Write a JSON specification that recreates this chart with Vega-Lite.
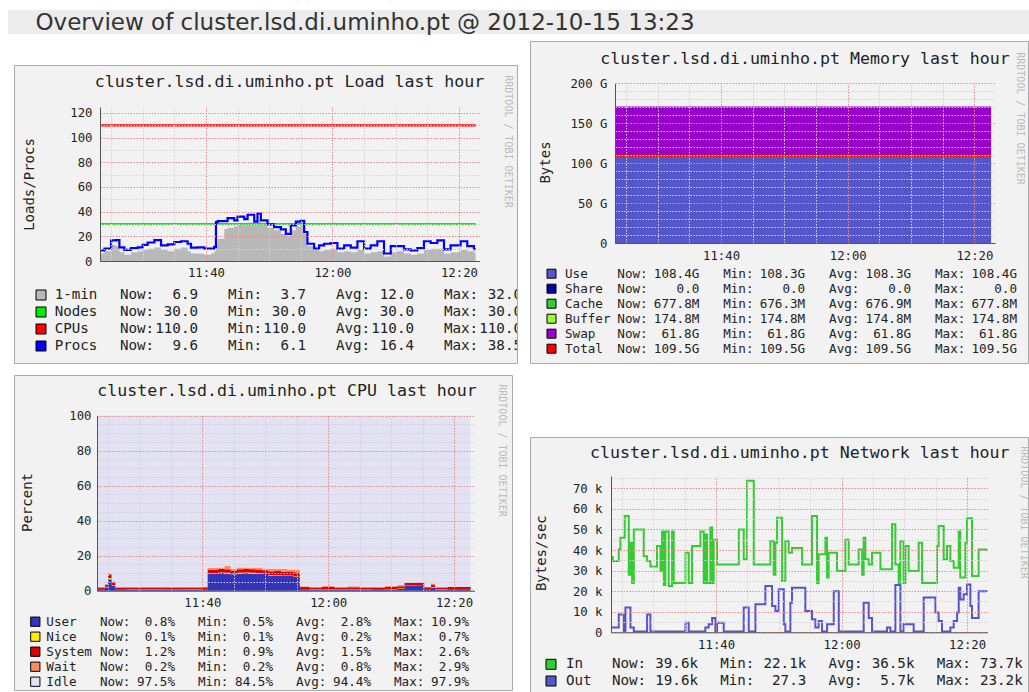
{
"$schema": "https://vega.github.io/schema/vega-lite/v6.json",
"padding": {"left": 8, "top": 10, "right": 0, "bottom": 0},
"background": "#ffffff",
"config": {
  "font": "DejaVu Sans Mono",
  "view": {"stroke": null},
  "axis": {"labelFont": "DejaVu Sans Mono", "labelFontSize": 12.3, "labelColor": "#222222", "titleFont": "DejaVu Sans Mono", "titleFontSize": 14, "titleColor": "#222222", "titleFontWeight": "normal", "domainColor": "#555555", "gridWidth": 1, "gridOpacity": 1, "labelOverlap": false, "labelFlush": false}
},
"datasets": {
  "load": [
    {"time":"2012-10-15T11:23:19","load1":6,"procs":8.6},
    {"time":"2012-10-15T11:23:57","load1":8,"procs":10},
    {"time":"2012-10-15T11:25:00","load1":13,"procs":16.7},
    {"time":"2012-10-15T11:25:47","load1":12,"procs":17},
    {"time":"2012-10-15T11:26:19","load1":7,"procs":11},
    {"time":"2012-10-15T11:27:06","load1":5,"procs":9},
    {"time":"2012-10-15T11:28:09","load1":7,"procs":10.5},
    {"time":"2012-10-15T11:29:13","load1":8,"procs":11},
    {"time":"2012-10-15T11:30:00","load1":9,"procs":13},
    {"time":"2012-10-15T11:30:47","load1":10,"procs":15},
    {"time":"2012-10-15T11:31:51","load1":11,"procs":17},
    {"time":"2012-10-15T11:32:54","load1":9,"procs":12.7},
    {"time":"2012-10-15T11:33:57","load1":8,"procs":13.5},
    {"time":"2012-10-15T11:35:00","load1":10,"procs":15.4},
    {"time":"2012-10-15T11:36:03","load1":11,"procs":16},
    {"time":"2012-10-15T11:37:06","load1":8,"procs":14},
    {"time":"2012-10-15T11:37:38","load1":6,"procs":10.8},
    {"time":"2012-10-15T11:38:41","load1":6,"procs":11},
    {"time":"2012-10-15T11:39:44","load1":5,"procs":10},
    {"time":"2012-10-15T11:40:47","load1":6,"procs":10},
    {"time":"2012-10-15T11:41:19","load1":8,"procs":11.5},
    {"time":"2012-10-15T11:41:35","load1":14,"procs":31.5},
    {"time":"2012-10-15T11:41:51","load1":18,"procs":32.4},
    {"time":"2012-10-15T11:42:54","load1":26,"procs":32.4},
    {"time":"2012-10-15T11:43:25","load1":27,"procs":34.8},
    {"time":"2012-10-15T11:44:28","load1":28,"procs":33},
    {"time":"2012-10-15T11:45:00","load1":30,"procs":36},
    {"time":"2012-10-15T11:46:03","load1":29,"procs":34},
    {"time":"2012-10-15T11:46:35","load1":31,"procs":37.5},
    {"time":"2012-10-15T11:47:38","load1":29,"procs":32},
    {"time":"2012-10-15T11:48:09","load1":32,"procs":38.5},
    {"time":"2012-10-15T11:48:41","load1":30,"procs":33},
    {"time":"2012-10-15T11:49:44","load1":27,"procs":29.7},
    {"time":"2012-10-15T11:50:47","load1":25,"procs":27.5},
    {"time":"2012-10-15T11:51:51","load1":22,"procs":25.6},
    {"time":"2012-10-15T11:52:38","load1":20,"procs":22},
    {"time":"2012-10-15T11:53:25","load1":25,"procs":28.9},
    {"time":"2012-10-15T11:54:13","load1":28,"procs":32},
    {"time":"2012-10-15T11:55:00","load1":29,"procs":32.6},
    {"time":"2012-10-15T11:55:32","load1":22,"procs":23.5},
    {"time":"2012-10-15T11:56:03","load1":12,"procs":14},
    {"time":"2012-10-15T11:57:06","load1":9,"procs":10},
    {"time":"2012-10-15T11:57:54","load1":8,"procs":12.7},
    {"time":"2012-10-15T11:58:41","load1":9,"procs":14},
    {"time":"2012-10-15T11:59:44","load1":10,"procs":14.6},
    {"time":"2012-10-15T12:00:47","load1":7,"procs":10},
    {"time":"2012-10-15T12:01:51","load1":8,"procs":12.7},
    {"time":"2012-10-15T12:02:54","load1":7,"procs":10.8},
    {"time":"2012-10-15T12:03:57","load1":9,"procs":16},
    {"time":"2012-10-15T12:05:00","load1":6,"procs":10},
    {"time":"2012-10-15T12:06:03","load1":7,"procs":12.7},
    {"time":"2012-10-15T12:07:06","load1":8,"procs":16},
    {"time":"2012-10-15T12:08:09","load1":3.7,"procs":6.1},
    {"time":"2012-10-15T12:09:13","load1":7,"procs":12},
    {"time":"2012-10-15T12:10:16","load1":8,"procs":12},
    {"time":"2012-10-15T12:11:19","load1":6,"procs":9.4},
    {"time":"2012-10-15T12:12:22","load1":5,"procs":8.6},
    {"time":"2012-10-15T12:13:25","load1":6,"procs":10.5},
    {"time":"2012-10-15T12:14:28","load1":9,"procs":16},
    {"time":"2012-10-15T12:15:32","load1":10,"procs":14.6},
    {"time":"2012-10-15T12:16:35","load1":10,"procs":16.7},
    {"time":"2012-10-15T12:17:38","load1":6,"procs":9.4},
    {"time":"2012-10-15T12:18:41","load1":7,"procs":12.7},
    {"time":"2012-10-15T12:20:16","load1":9,"procs":16},
    {"time":"2012-10-15T12:21:19","load1":8,"procs":12},
    {"time":"2012-10-15T12:22:22","load1":6.9,"procs":9.6},
    {"time":"2012-10-15T12:22:38","load1":6.9,"procs":9.6}
  ],
  "loadConst": [
    {"time":"2012-10-15T11:23:19","nodes":30,"cpus":110},
    {"time":"2012-10-15T12:22:38","nodes":30,"cpus":110}
  ],
  "loadStats": [
    {"series":"1-min","Now:":"6.9","Min:":"3.7","Avg:":"12.0","Max:":"32.0"},
    {"series":"Nodes","Now:":"30.0","Min:":"30.0","Avg:":"30.0","Max:":"30.0"},
    {"series":"CPUs","Now:":"110.0","Min:":"110.0","Avg:":"110.0","Max:":"110.0"},
    {"series":"Procs","Now:":"9.6","Min:":"6.1","Avg:":"16.4","Max:":"38.5"}
  ],
  "mem": [
    {"time":"2012-10-15T11:23:19","Use":108.4,"Share":0,"Cache":0.678,"Buffer":0.175,"Swap":61.8,"Total":109.5},
    {"time":"2012-10-15T12:22:38","Use":108.4,"Share":0,"Cache":0.678,"Buffer":0.175,"Swap":61.8,"Total":109.5}
  ],
  "memStats": [
    {"series":"Use","Now:":"108.4G","Min:":"108.3G","Avg:":"108.3G","Max:":"108.4G"},
    {"series":"Share","Now:":"0.0\u00a0","Min:":"0.0\u00a0","Avg:":"0.0\u00a0","Max:":"0.0\u00a0"},
    {"series":"Cache","Now:":"677.8M","Min:":"676.3M","Avg:":"676.9M","Max:":"677.8M"},
    {"series":"Buffer","Now:":"174.8M","Min:":"174.8M","Avg:":"174.8M","Max:":"174.8M"},
    {"series":"Swap","Now:":"61.8G","Min:":"61.8G","Avg:":"61.8G","Max:":"61.8G"},
    {"series":"Total","Now:":"109.5G","Min:":"109.5G","Avg:":"109.5G","Max:":"109.5G"}
  ],
  "cpu": [
    {"time":"2012-10-15T11:23:18","User":0.8,"Nice":0.1,"System":1.0,"Wait":0.3,"Idle":97.8},
    {"time":"2012-10-15T11:24:30","User":2.0,"Nice":0.2,"System":1.2,"Wait":0.4,"Idle":96.2},
    {"time":"2012-10-15T11:25:00","User":6.5,"Nice":0.7,"System":2.0,"Wait":0.8,"Idle":90.0},
    {"time":"2012-10-15T11:25:36","User":3.0,"Nice":0.3,"System":1.5,"Wait":0.6,"Idle":94.6},
    {"time":"2012-10-15T11:26:12","User":0.8,"Nice":0.1,"System":1.0,"Wait":0.3,"Idle":97.8},
    {"time":"2012-10-15T11:28:00","User":0.7,"Nice":0.1,"System":1.1,"Wait":0.2,"Idle":97.9},
    {"time":"2012-10-15T11:31:00","User":0.7,"Nice":0.1,"System":1.1,"Wait":0.2,"Idle":97.9},
    {"time":"2012-10-15T11:34:00","User":0.6,"Nice":0.1,"System":1.1,"Wait":0.3,"Idle":97.9},
    {"time":"2012-10-15T11:37:00","User":0.7,"Nice":0.1,"System":1.1,"Wait":0.2,"Idle":97.9},
    {"time":"2012-10-15T11:40:00","User":0.8,"Nice":0.1,"System":1.1,"Wait":0.2,"Idle":97.8},
    {"time":"2012-10-15T11:40:48","User":9.6,"Nice":0.3,"System":2.0,"Wait":1.2,"Idle":86.9},
    {"time":"2012-10-15T11:42:30","User":10.2,"Nice":0.2,"System":2.1,"Wait":0.8,"Idle":86.7},
    {"time":"2012-10-15T11:43:30","User":9.8,"Nice":0.4,"System":2.0,"Wait":2.0,"Idle":85.8},
    {"time":"2012-10-15T11:44:30","User":9.4,"Nice":0.2,"System":1.9,"Wait":0.9,"Idle":87.6},
    {"time":"2012-10-15T11:45:30","User":9.9,"Nice":0.3,"System":2.0,"Wait":1.0,"Idle":86.8},
    {"time":"2012-10-15T11:46:30","User":10.1,"Nice":0.3,"System":2.1,"Wait":0.7,"Idle":86.8},
    {"time":"2012-10-15T11:47:30","User":9.7,"Nice":0.5,"System":2.0,"Wait":0.9,"Idle":86.9},
    {"time":"2012-10-15T11:48:30","User":9.8,"Nice":0.3,"System":2.0,"Wait":1.2,"Idle":86.7},
    {"time":"2012-10-15T11:49:30","User":9.5,"Nice":0.2,"System":2.0,"Wait":1.0,"Idle":87.3},
    {"time":"2012-10-15T11:50:30","User":8.5,"Nice":0.3,"System":2.3,"Wait":1.5,"Idle":87.4},
    {"time":"2012-10-15T11:51:30","User":8.6,"Nice":0.2,"System":2.4,"Wait":1.2,"Idle":87.6},
    {"time":"2012-10-15T11:52:30","User":8.4,"Nice":0.3,"System":2.2,"Wait":1.6,"Idle":87.5},
    {"time":"2012-10-15T11:53:30","User":8.5,"Nice":0.2,"System":2.3,"Wait":1.1,"Idle":87.9},
    {"time":"2012-10-15T11:54:30","User":7.8,"Nice":0.3,"System":2.5,"Wait":1.4,"Idle":88.0},
    {"time":"2012-10-15T11:55:30","User":0.8,"Nice":0.1,"System":1.2,"Wait":0.5,"Idle":97.4},
    {"time":"2012-10-15T11:57:00","User":0.7,"Nice":0.1,"System":1.1,"Wait":0.4,"Idle":97.7},
    {"time":"2012-10-15T11:59:00","User":0.8,"Nice":0.2,"System":1.3,"Wait":0.5,"Idle":97.2},
    {"time":"2012-10-15T12:01:00","User":0.6,"Nice":0.1,"System":1.2,"Wait":0.3,"Idle":97.8},
    {"time":"2012-10-15T12:03:00","User":0.7,"Nice":0.1,"System":1.2,"Wait":0.5,"Idle":97.5},
    {"time":"2012-10-15T12:05:00","User":0.6,"Nice":0.1,"System":1.1,"Wait":0.4,"Idle":97.8},
    {"time":"2012-10-15T12:07:00","User":0.5,"Nice":0.1,"System":1.2,"Wait":0.3,"Idle":97.9},
    {"time":"2012-10-15T12:09:00","User":0.8,"Nice":0.2,"System":1.3,"Wait":0.6,"Idle":97.1},
    {"time":"2012-10-15T12:11:00","User":1.0,"Nice":0.2,"System":1.4,"Wait":0.7,"Idle":96.7},
    {"time":"2012-10-15T12:12:06","User":2.8,"Nice":0.2,"System":1.4,"Wait":0.3,"Idle":95.3},
    {"time":"2012-10-15T12:14:00","User":2.7,"Nice":0.2,"System":1.5,"Wait":0.4,"Idle":95.2},
    {"time":"2012-10-15T12:15:18","User":0.8,"Nice":0.1,"System":1.1,"Wait":0.3,"Idle":97.7},
    {"time":"2012-10-15T12:16:20","User":1.8,"Nice":0.3,"System":1.4,"Wait":0.6,"Idle":95.9},
    {"time":"2012-10-15T12:17:00","User":0.7,"Nice":0.1,"System":1.1,"Wait":0.3,"Idle":97.8},
    {"time":"2012-10-15T12:19:00","User":0.8,"Nice":0.1,"System":1.2,"Wait":0.2,"Idle":97.7},
    {"time":"2012-10-15T12:21:00","User":0.8,"Nice":0.1,"System":1.2,"Wait":0.2,"Idle":97.7},
    {"time":"2012-10-15T12:22:38","User":0.8,"Nice":0.1,"System":1.2,"Wait":0.2,"Idle":97.7}
  ],
  "cpuStats": [
    {"series":"User","Now:":"0.8%","Min:":"0.5%","Avg:":"2.8%","Max:":"10.9%"},
    {"series":"Nice","Now:":"0.1%","Min:":"0.1%","Avg:":"0.2%","Max:":"0.7%"},
    {"series":"System","Now:":"1.2%","Min:":"0.9%","Avg:":"1.5%","Max:":"2.6%"},
    {"series":"Wait","Now:":"0.2%","Min:":"0.2%","Avg:":"0.8%","Max:":"2.9%"},
    {"series":"Idle","Now:":"97.5%","Min:":"84.5%","Avg:":"94.4%","Max:":"97.9%"}
  ],
  "net": [
    {"time":"2012-10-15T11:23:15","dir":"In","k":36.6},{"time":"2012-10-15T11:23:32","dir":"In","k":34.7},{"time":"2012-10-15T11:24:29","dir":"In","k":40.3},{"time":"2012-10-15T11:24:45","dir":"In","k":46.0},{"time":"2012-10-15T11:25:26","dir":"In","k":56.6},{"time":"2012-10-15T11:26:05","dir":"In","k":28.0},{"time":"2012-10-15T11:26:21","dir":"In","k":43.6},{"time":"2012-10-15T11:26:37","dir":"In","k":24.0},{"time":"2012-10-15T11:26:53","dir":"In","k":50.0},{"time":"2012-10-15T11:28:28","dir":"In","k":37.0},{"time":"2012-10-15T11:29:00","dir":"In","k":34.7},{"time":"2012-10-15T11:29:32","dir":"In","k":32.0},{"time":"2012-10-15T11:30:35","dir":"In","k":42.0},{"time":"2012-10-15T11:31:08","dir":"In","k":29.8},{"time":"2012-10-15T11:31:23","dir":"In","k":49.0},{"time":"2012-10-15T11:31:40","dir":"In","k":23.0},{"time":"2012-10-15T11:31:55","dir":"In","k":49.0},{"time":"2012-10-15T11:32:27","dir":"In","k":22.5},{"time":"2012-10-15T11:32:59","dir":"In","k":49.0},{"time":"2012-10-15T11:33:15","dir":"In","k":24.0},{"time":"2012-10-15T11:35:07","dir":"In","k":38.7},{"time":"2012-10-15T11:35:38","dir":"In","k":24.0},{"time":"2012-10-15T11:36:10","dir":"In","k":42.0},{"time":"2012-10-15T11:37:30","dir":"In","k":49.0},{"time":"2012-10-15T11:38:02","dir":"In","k":24.0},{"time":"2012-10-15T11:38:17","dir":"In","k":47.6},{"time":"2012-10-15T11:38:34","dir":"In","k":24.0},{"time":"2012-10-15T11:39:05","dir":"In","k":51.0},{"time":"2012-10-15T11:39:22","dir":"In","k":24.0},{"time":"2012-10-15T11:39:37","dir":"In","k":45.0},{"time":"2012-10-15T11:40:09","dir":"In","k":33.0},{"time":"2012-10-15T11:43:37","dir":"In","k":50.0},{"time":"2012-10-15T11:44:24","dir":"In","k":35.5},{"time":"2012-10-15T11:44:56","dir":"In","k":73.7},{"time":"2012-10-15T11:46:00","dir":"In","k":33.0},{"time":"2012-10-15T11:48:39","dir":"In","k":44.4},{"time":"2012-10-15T11:49:11","dir":"In","k":28.0},{"time":"2012-10-15T11:49:27","dir":"In","k":43.6},{"time":"2012-10-15T11:49:43","dir":"In","k":55.7},{"time":"2012-10-15T11:50:31","dir":"In","k":25.0},{"time":"2012-10-15T11:51:02","dir":"In","k":44.4},{"time":"2012-10-15T11:51:34","dir":"In","k":38.7},{"time":"2012-10-15T11:52:06","dir":"In","k":41.0},{"time":"2012-10-15T11:53:42","dir":"In","k":33.0},{"time":"2012-10-15T11:55:17","dir":"In","k":56.6},{"time":"2012-10-15T11:56:05","dir":"In","k":24.0},{"time":"2012-10-15T11:56:21","dir":"In","k":38.0},{"time":"2012-10-15T11:57:25","dir":"In","k":46.0},{"time":"2012-10-15T11:57:41","dir":"In","k":26.6},{"time":"2012-10-15T11:57:56","dir":"In","k":38.7},{"time":"2012-10-15T11:59:16","dir":"In","k":29.8},{"time":"2012-10-15T12:00:36","dir":"In","k":45.0},{"time":"2012-10-15T12:01:08","dir":"In","k":33.0},{"time":"2012-10-15T12:02:43","dir":"In","k":40.3},{"time":"2012-10-15T12:03:16","dir":"In","k":28.0},{"time":"2012-10-15T12:03:31","dir":"In","k":46.0},{"time":"2012-10-15T12:03:47","dir":"In","k":35.5},{"time":"2012-10-15T12:04:19","dir":"In","k":33.0},{"time":"2012-10-15T12:04:51","dir":"In","k":38.7},{"time":"2012-10-15T12:06:11","dir":"In","k":30.6},{"time":"2012-10-15T12:08:02","dir":"In","k":52.5},{"time":"2012-10-15T12:08:34","dir":"In","k":33.0},{"time":"2012-10-15T12:09:06","dir":"In","k":24.0},{"time":"2012-10-15T12:09:22","dir":"In","k":44.4},{"time":"2012-10-15T12:09:53","dir":"In","k":24.0},{"time":"2012-10-15T12:10:10","dir":"In","k":42.0},{"time":"2012-10-15T12:10:41","dir":"In","k":29.8},{"time":"2012-10-15T12:12:17","dir":"In","k":43.6},{"time":"2012-10-15T12:12:49","dir":"In","k":24.0},{"time":"2012-10-15T12:15:12","dir":"In","k":42.0},{"time":"2012-10-15T12:15:28","dir":"In","k":51.7},{"time":"2012-10-15T12:16:16","dir":"In","k":35.5},{"time":"2012-10-15T12:16:48","dir":"In","k":42.0},{"time":"2012-10-15T12:17:20","dir":"In","k":34.7},{"time":"2012-10-15T12:17:52","dir":"In","k":31.4},{"time":"2012-10-15T12:18:40","dir":"In","k":49.0},{"time":"2012-10-15T12:18:55","dir":"In","k":26.6},{"time":"2012-10-15T12:19:43","dir":"In","k":43.6},{"time":"2012-10-15T12:19:59","dir":"In","k":55.4},{"time":"2012-10-15T12:20:47","dir":"In","k":27.4},{"time":"2012-10-15T12:21:50","dir":"In","k":40.3},{"time":"2012-10-15T12:23:05","dir":"In","k":39.6},
    {"time":"2012-10-15T11:23:15","dir":"Out","k":2.3},{"time":"2012-10-15T11:24:29","dir":"Out","k":8.7},{"time":"2012-10-15T11:25:17","dir":"Out","k":0.4},{"time":"2012-10-15T11:25:33","dir":"Out","k":12.0},{"time":"2012-10-15T11:26:21","dir":"Out","k":2.3},{"time":"2012-10-15T11:26:53","dir":"Out","k":0.4},{"time":"2012-10-15T11:29:00","dir":"Out","k":8.7},{"time":"2012-10-15T11:29:32","dir":"Out","k":0.4},{"time":"2012-10-15T11:35:07","dir":"Out","k":4.7},{"time":"2012-10-15T11:35:38","dir":"Out","k":0.4},{"time":"2012-10-15T11:38:17","dir":"Out","k":2.3},{"time":"2012-10-15T11:38:49","dir":"Out","k":3.9},{"time":"2012-10-15T11:39:22","dir":"Out","k":7.0},{"time":"2012-10-15T11:39:53","dir":"Out","k":0.4},{"time":"2012-10-15T11:40:09","dir":"Out","k":4.7},{"time":"2012-10-15T11:41:13","dir":"Out","k":0.4},{"time":"2012-10-15T11:44:24","dir":"Out","k":12.0},{"time":"2012-10-15T11:45:12","dir":"Out","k":0.4},{"time":"2012-10-15T11:46:16","dir":"Out","k":13.6},{"time":"2012-10-15T11:47:51","dir":"Out","k":22.5},{"time":"2012-10-15T11:48:55","dir":"Out","k":12.8},{"time":"2012-10-15T11:49:27","dir":"Out","k":10.4},{"time":"2012-10-15T11:49:59","dir":"Out","k":20.9},{"time":"2012-10-15T11:50:47","dir":"Out","k":3.9},{"time":"2012-10-15T11:51:02","dir":"Out","k":0.4},{"time":"2012-10-15T11:51:50","dir":"Out","k":14.4},{"time":"2012-10-15T11:52:06","dir":"Out","k":21.7},{"time":"2012-10-15T11:54:13","dir":"Out","k":10.4},{"time":"2012-10-15T11:55:17","dir":"Out","k":6.3},{"time":"2012-10-15T11:55:49","dir":"Out","k":2.3},{"time":"2012-10-15T11:56:21","dir":"Out","k":5.5},{"time":"2012-10-15T11:56:53","dir":"Out","k":0.4},{"time":"2012-10-15T11:57:41","dir":"Out","k":3.9},{"time":"2012-10-15T11:58:45","dir":"Out","k":20.0},{"time":"2012-10-15T11:59:33","dir":"Out","k":0.4},{"time":"2012-10-15T12:03:31","dir":"Out","k":14.4},{"time":"2012-10-15T12:04:19","dir":"Out","k":7.0},{"time":"2012-10-15T12:04:51","dir":"Out","k":0.4},{"time":"2012-10-15T12:07:14","dir":"Out","k":2.3},{"time":"2012-10-15T12:07:46","dir":"Out","k":0.4},{"time":"2012-10-15T12:08:34","dir":"Out","k":23.0},{"time":"2012-10-15T12:09:22","dir":"Out","k":0.4},{"time":"2012-10-15T12:09:53","dir":"Out","k":3.9},{"time":"2012-10-15T12:11:29","dir":"Out","k":0.4},{"time":"2012-10-15T12:13:05","dir":"Out","k":16.9},{"time":"2012-10-15T12:14:57","dir":"Out","k":9.6},{"time":"2012-10-15T12:15:28","dir":"Out","k":5.5},{"time":"2012-10-15T12:16:00","dir":"Out","k":0.4},{"time":"2012-10-15T12:17:20","dir":"Out","k":2.3},{"time":"2012-10-15T12:17:52","dir":"Out","k":5.5},{"time":"2012-10-15T12:18:24","dir":"Out","k":9.6},{"time":"2012-10-15T12:18:40","dir":"Out","k":21.7},{"time":"2012-10-15T12:18:55","dir":"Out","k":16.0},{"time":"2012-10-15T12:19:27","dir":"Out","k":18.5},{"time":"2012-10-15T12:19:59","dir":"Out","k":23.2},{"time":"2012-10-15T12:20:31","dir":"Out","k":12.8},{"time":"2012-10-15T12:20:47","dir":"Out","k":7.0},{"time":"2012-10-15T12:21:50","dir":"Out","k":20.0},{"time":"2012-10-15T12:23:05","dir":"Out","k":19.6}
  ],
  "netStats": [
    {"series":"In","Now:":"39.6k","Min:":"22.1k","Avg:":"36.5k","Max:":"73.7k"},
    {"series":"Out","Now:":"19.6k","Min:":"27.3\u00a0","Avg:":"5.7k","Max:":"23.2k"}
  ]
},
"spacing": 6,
"resolve": {"scale": {"color": "independent"}},
"vconcat": [
  {
    "width": 1021, "height": 24,
    "view": {"fill": "#ececec", "stroke": null},
    "data": {"values": [{"v": 0.5}]},
    "mark": {"type": "point", "opacity": 0, "size": 1},
    "encoding": {
      "x": {"field": "v", "type": "quantitative", "scale": {"domain": [0, 1]},
        "axis": {"orient": "top", "offset": 0, "labels": false, "ticks": false, "domain": false, "grid": false, "title": "Overview of cluster.lsd.di.uminho.pt @ 2012-10-15 13:23", "titleX": 27, "titleY": 12, "titleAlign": "left", "titleAnchor": "start", "titleAngle": 0, "titleBaseline": "middle", "titleFont": "DejaVu Sans", "titleFontSize": 23, "titleFontWeight": "normal", "titleColor": "#333333"}},
      "y": {"value": 12}
    }
  },
  {
    "spacing": 0,
    "resolve": {"scale": {"color": "independent"}},
    "hconcat": [
      {"width": 5, "height": 1, "data": {"values": []}, "mark": "point", "view": {"stroke": null, "fill": "#ffffff"}},
      {
        "spacing": 11,
        "resolve": {"scale": {"color": "independent"}},
        "hconcat": [
          {
            "spacing": 10,
            "resolve": {"scale": {"color": "independent"}},
            "vconcat": [
              {"width": 1, "height": 13, "data": {"values": []}, "mark": "point", "view": {"stroke": null, "fill": "#ffffff"}},
              {
                "width": 503, "height": 298,
                "view": {"fill": "#f2f2f2", "stroke": "#aaaaaa"},
                "resolve": {"scale": {"x": "independent", "y": "independent"}},
                "layer": [
                  {
                    "encoding": {
                      "x": {"field": "time", "type": "temporal",
                        "scale": {"domain": [{"year":2012,"month":10,"date":15,"hours":11,"minutes":23,"seconds":15},{"year":2012,"month":10,"date":15,"hours":12,"minutes":23,"seconds":15}], "range": [86, 465.5], "nice": false},
                        "axis": {"orient": "top", "offset": -196, "values": [{"year":2012,"month":10,"date":15,"hours":11,"minutes":25},{"year":2012,"month":10,"date":15,"hours":11,"minutes":30},{"year":2012,"month":10,"date":15,"hours":11,"minutes":35},{"year":2012,"month":10,"date":15,"hours":11,"minutes":40},{"year":2012,"month":10,"date":15,"hours":11,"minutes":45},{"year":2012,"month":10,"date":15,"hours":11,"minutes":50},{"year":2012,"month":10,"date":15,"hours":11,"minutes":55},{"year":2012,"month":10,"date":15,"hours":12,"minutes":0},{"year":2012,"month":10,"date":15,"hours":12,"minutes":5},{"year":2012,"month":10,"date":15,"hours":12,"minutes":10},{"year":2012,"month":10,"date":15,"hours":12,"minutes":15},{"year":2012,"month":10,"date":15,"hours":12,"minutes":20}], "format": "%H:%M", "labelExpr": "minutes(datum.value) % 20 === 0 ? datum.label : ''", "labelBaseline": "middle", "labelAlign": "center", "labelPadding": -11, "labelOverlap": false, "labelFlush": false, "ticks": false, "tickSize": 0, "title": null, "grid": true, "gridColor": {"condition": {"test": "minutes(datum.value) % 20 === 0", "value": "#f08a8a"}, "value": "#d9d2d2"}, "gridDash": [1.5, 1.5], "zindex": 1}
                      }
                    },
                    "layer": [
                      {
                        "data": {"values": [{}]},
                        "mark": {"type": "rect", "color": "#ffffff"},
                        "encoding": {
                          "x": {"datum": {"year":2012,"month":10,"date":15,"hours":11,"minutes":23,"seconds":15}, "type": "temporal",
                            "scale": {"domain": [{"year":2012,"month":10,"date":15,"hours":11,"minutes":23,"seconds":15},{"year":2012,"month":10,"date":15,"hours":12,"minutes":23,"seconds":15}], "range": [86, 465.5], "nice": false},
                            "axis": {"orient": "top", "offset": -196, "values": [{"year":2012,"month":10,"date":15,"hours":11,"minutes":25},{"year":2012,"month":10,"date":15,"hours":11,"minutes":30},{"year":2012,"month":10,"date":15,"hours":11,"minutes":35},{"year":2012,"month":10,"date":15,"hours":11,"minutes":40},{"year":2012,"month":10,"date":15,"hours":11,"minutes":45},{"year":2012,"month":10,"date":15,"hours":11,"minutes":50},{"year":2012,"month":10,"date":15,"hours":11,"minutes":55},{"year":2012,"month":10,"date":15,"hours":12,"minutes":0},{"year":2012,"month":10,"date":15,"hours":12,"minutes":5},{"year":2012,"month":10,"date":15,"hours":12,"minutes":10},{"year":2012,"month":10,"date":15,"hours":12,"minutes":15},{"year":2012,"month":10,"date":15,"hours":12,"minutes":20}], "format": "%H:%M", "labelExpr": "minutes(datum.value) % 20 === 0 ? datum.label : ''", "labelBaseline": "middle", "labelAlign": "center", "labelPadding": -11, "labelOverlap": false, "labelFlush": false, "ticks": false, "tickSize": 0, "title": null, "grid": true, "gridColor": {"condition": {"test": "minutes(datum.value) % 20 === 0", "value": "#f08a8a"}, "value": "#d9d2d2"}, "gridDash": [1.5, 1.5], "zindex": 1}},
                          "x2": {"datum": {"year":2012,"month":10,"date":15,"hours":12,"minutes":23,"seconds":15}},
                          "y": {"datum": 0, "type": "quantitative", "scale": {"domain": [0, 125], "range": [196, 41.8], "nice": false, "zero": false},
                            "axis": {"orient": "left", "offset": -86, "values": [0,10,20,30,40,50,60,70,80,90,100,110,120], "labelExpr": "datum.value % 20 === 0 ? datum.label : ''", "labelPadding": 8, "labelOverlap": false, "labelFlush": false, "ticks": false, "tickSize": 0, "grid": true, "gridColor": {"condition": {"test": "datum.value % 20 === 0", "value": "#f08a8a"}, "value": "#d9d2d2"}, "gridDash": [1.5, 1.5], "title": "Loads/Procs", "titleX": -71, "titleY": 119, "titleAngle": -90, "titleAlign": "center", "titleBaseline": "middle", "zindex": 1}},
                          "y2": {"datum": 125}
                        }
                      },
                      {
                        "data": {"name": "load"},
                        "mark": {"type": "area", "interpolate": "step-after"},
                        "encoding": {
                          "y": {"field": "load1", "type": "quantitative", "scale": {"domain": [0, 125], "range": [196, 41.8], "nice": false, "zero": false},
                            "axis": {"orient": "left", "offset": -86, "values": [0,10,20,30,40,50,60,70,80,90,100,110,120], "labelExpr": "datum.value % 20 === 0 ? datum.label : ''", "labelPadding": 8, "labelOverlap": false, "labelFlush": false, "ticks": false, "tickSize": 0, "grid": true, "gridColor": {"condition": {"test": "datum.value % 20 === 0", "value": "#f08a8a"}, "value": "#d9d2d2"}, "gridDash": [1.5, 1.5], "title": "Loads/Procs", "titleX": -71, "titleY": 119, "titleAngle": -90, "titleAlign": "center", "titleBaseline": "middle", "zindex": 1}},
                          "color": {"datum": "1-min", "type": "nominal", "scale": {"domain": ["1-min","Nodes","CPUs","Procs"], "range": ["#b8b8b8","#00ee00","#ff0000","#0000ff"]}, "legend": null}
                        }
                      },
                      {
                        "data": {"name": "loadConst"},
                        "mark": {"type": "line", "strokeWidth": 2.2},
                        "encoding": {
                          "y": {"field": "nodes", "type": "quantitative", "scale": {"domain": [0, 125], "range": [196, 41.8], "nice": false, "zero": false},
                            "axis": {"orient": "left", "offset": -86, "values": [0,10,20,30,40,50,60,70,80,90,100,110,120], "labelExpr": "datum.value % 20 === 0 ? datum.label : ''", "labelPadding": 8, "labelOverlap": false, "labelFlush": false, "ticks": false, "tickSize": 0, "grid": true, "gridColor": {"condition": {"test": "datum.value % 20 === 0", "value": "#f08a8a"}, "value": "#d9d2d2"}, "gridDash": [1.5, 1.5], "title": "Loads/Procs", "titleX": -71, "titleY": 119, "titleAngle": -90, "titleAlign": "center", "titleBaseline": "middle", "zindex": 1}},
                          "color": {"datum": "Nodes", "type": "nominal"}
                        }
                      },
                      {
                        "data": {"name": "loadConst"},
                        "mark": {"type": "line", "strokeWidth": 2.2},
                        "encoding": {
                          "y": {"field": "cpus", "type": "quantitative", "scale": {"domain": [0, 125], "range": [196, 41.8], "nice": false, "zero": false},
                            "axis": {"orient": "left", "offset": -86, "values": [0,10,20,30,40,50,60,70,80,90,100,110,120], "labelExpr": "datum.value % 20 === 0 ? datum.label : ''", "labelPadding": 8, "labelOverlap": false, "labelFlush": false, "ticks": false, "tickSize": 0, "grid": true, "gridColor": {"condition": {"test": "datum.value % 20 === 0", "value": "#f08a8a"}, "value": "#d9d2d2"}, "gridDash": [1.5, 1.5], "title": "Loads/Procs", "titleX": -71, "titleY": 119, "titleAngle": -90, "titleAlign": "center", "titleBaseline": "middle", "zindex": 1}},
                          "color": {"datum": "CPUs", "type": "nominal"}
                        }
                      },
                      {
                        "data": {"name": "load"},
                        "mark": {"type": "line", "strokeWidth": 2.2, "interpolate": "step-after"},
                        "encoding": {
                          "y": {"field": "procs", "type": "quantitative", "scale": {"domain": [0, 125], "range": [196, 41.8], "nice": false, "zero": false},
                            "axis": {"orient": "left", "offset": -86, "values": [0,10,20,30,40,50,60,70,80,90,100,110,120], "labelExpr": "datum.value % 20 === 0 ? datum.label : ''", "labelPadding": 8, "labelOverlap": false, "labelFlush": false, "ticks": false, "tickSize": 0, "grid": true, "gridColor": {"condition": {"test": "datum.value % 20 === 0", "value": "#f08a8a"}, "value": "#d9d2d2"}, "gridDash": [1.5, 1.5], "title": "Loads/Procs", "titleX": -71, "titleY": 119, "titleAngle": -90, "titleAlign": "center", "titleBaseline": "middle", "zindex": 1}},
                          "color": {"datum": "Procs", "type": "nominal"}
                        }
                      }
                    ]
                  },
                  {
                    "data": {"name": "loadStats"},
                    "encoding": {
                      "y": {"field": "series", "type": "nominal", "scale": {"type": "point", "domain": ["1-min","Nodes","CPUs","Procs"], "range": [230, 281], "padding": 0},
                        "axis": {"orient": "right", "offset": -10, "labels": false, "ticks": false, "domain": false, "grid": false, "title": "RRDTOOL / TOBI OETIKER", "titleAngle": 90, "titleX": 0, "titleY": 76, "titleAlign": "center", "titleBaseline": "middle", "titleFontSize": 10, "titleColor": "#bbbbbb"}}
                    },
                    "resolve": {"scale": {"x": "independent"}},
                    "layer": [
                      {
                        "encoding": {"x": {"datum": "sq", "type": "nominal", "scale": {"type": "point", "domain": ["sq", "name"], "range": [27, 40.7], "padding": 0}, "axis": null}},
                        "layer": [
                          {"mark": {"type": "square", "size": 100, "filled": true, "opacity": 1, "stroke": "#000000", "strokeWidth": 1},
                           "encoding": {"color": {"field": "series", "type": "nominal", "legend": null}}},
                          {"mark": {"type": "text", "align": "left", "baseline": "middle", "fontSize": 14.2, "color": "#222222"},
                           "encoding": {"x": {"datum": "name", "type": "nominal"}, "text": {"field": "series"}}}
                        ]
                      },
                      {
                        "transform": [{"fold": ["Now:","Min:","Avg:","Max:"], "as": ["stat","val"]}],
                        "encoding": {"x": {"field": "stat", "type": "nominal", "scale": {"type": "point", "domain": ["Now:","Min:","Avg:","Max:"], "range": [106, 430], "padding": 0},
                          "axis": {"orient": "top", "offset": 0, "labels": false, "ticks": false, "domain": false, "grid": false, "title": "cluster.lsd.di.uminho.pt Load last hour", "titleX": 275, "titleY": 16.5, "titleAngle": 0, "titleAlign": "center", "titleBaseline": "middle", "titleFontSize": 16.6, "titleColor": "#222222"}}},
                        "layer": [
                          {"mark": {"type": "text", "align": "left", "baseline": "middle", "fontSize": 14.2, "color": "#222222", "clip": true}, "encoding": {"text": {"field": "stat"}}},
                          {"mark": {"type": "text", "align": "right", "baseline": "middle", "fontSize": 14.2, "color": "#222222", "dx": 78, "clip": true}, "encoding": {"text": {"field": "val"}}}
                        ]
                      }
                    ]
                  }
                ]
              },
              {
                "width": 498, "height": 315,
                "view": {"fill": "#f2f2f2", "stroke": "#aaaaaa"},
                "resolve": {"scale": {"x": "independent", "y": "independent"}},
                "layer": [
                  {
                    "encoding": {
                      "x": {"field": "time", "type": "temporal",
                        "scale": {"domain": [{"year":2012,"month":10,"date":15,"hours":11,"minutes":23,"seconds":15},{"year":2012,"month":10,"date":15,"hours":12,"minutes":23,"seconds":15}], "range": [83, 460.5], "nice": false},
                        "axis": {"orient": "top", "offset": -215.7, "values": [{"year":2012,"month":10,"date":15,"hours":11,"minutes":25},{"year":2012,"month":10,"date":15,"hours":11,"minutes":30},{"year":2012,"month":10,"date":15,"hours":11,"minutes":35},{"year":2012,"month":10,"date":15,"hours":11,"minutes":40},{"year":2012,"month":10,"date":15,"hours":11,"minutes":45},{"year":2012,"month":10,"date":15,"hours":11,"minutes":50},{"year":2012,"month":10,"date":15,"hours":11,"minutes":55},{"year":2012,"month":10,"date":15,"hours":12,"minutes":0},{"year":2012,"month":10,"date":15,"hours":12,"minutes":5},{"year":2012,"month":10,"date":15,"hours":12,"minutes":10},{"year":2012,"month":10,"date":15,"hours":12,"minutes":15},{"year":2012,"month":10,"date":15,"hours":12,"minutes":20}], "format": "%H:%M", "labelExpr": "minutes(datum.value) % 20 === 0 ? datum.label : ''", "labelBaseline": "middle", "labelAlign": "center", "labelPadding": -12, "labelOverlap": false, "labelFlush": false, "ticks": false, "tickSize": 0, "title": null, "grid": true, "gridColor": {"condition": {"test": "minutes(datum.value) % 20 === 0", "value": "#f08a8a"}, "value": "#cfcfe0"}, "gridDash": [1.5, 1.5], "zindex": 1}
                      }
                    },
                    "layer": [
                      {
                        "data": {"values": [{}]},
                        "mark": {"type": "rect", "color": "#ffffff"},
                        "encoding": {
                          "x": {"datum": {"year":2012,"month":10,"date":15,"hours":11,"minutes":23,"seconds":15}, "type": "temporal",
                            "scale": {"domain": [{"year":2012,"month":10,"date":15,"hours":11,"minutes":23,"seconds":15},{"year":2012,"month":10,"date":15,"hours":12,"minutes":23,"seconds":15}], "range": [83, 460.5], "nice": false},
                            "axis": {"orient": "top", "offset": -215.7, "values": [{"year":2012,"month":10,"date":15,"hours":11,"minutes":25},{"year":2012,"month":10,"date":15,"hours":11,"minutes":30},{"year":2012,"month":10,"date":15,"hours":11,"minutes":35},{"year":2012,"month":10,"date":15,"hours":11,"minutes":40},{"year":2012,"month":10,"date":15,"hours":11,"minutes":45},{"year":2012,"month":10,"date":15,"hours":11,"minutes":50},{"year":2012,"month":10,"date":15,"hours":11,"minutes":55},{"year":2012,"month":10,"date":15,"hours":12,"minutes":0},{"year":2012,"month":10,"date":15,"hours":12,"minutes":5},{"year":2012,"month":10,"date":15,"hours":12,"minutes":10},{"year":2012,"month":10,"date":15,"hours":12,"minutes":15},{"year":2012,"month":10,"date":15,"hours":12,"minutes":20}], "format": "%H:%M", "labelExpr": "minutes(datum.value) % 20 === 0 ? datum.label : ''", "labelBaseline": "middle", "labelAlign": "center", "labelPadding": -12, "labelOverlap": false, "labelFlush": false, "ticks": false, "tickSize": 0, "title": null, "grid": true, "gridColor": {"condition": {"test": "minutes(datum.value) % 20 === 0", "value": "#f08a8a"}, "value": "#cfcfe0"}, "gridDash": [1.5, 1.5], "zindex": 1}},
                          "x2": {"datum": {"year":2012,"month":10,"date":15,"hours":12,"minutes":23,"seconds":15}},
                          "y": {"datum": 0, "type": "quantitative", "scale": {"domain": [0, 100], "range": [215.7, 40.7], "nice": false, "zero": false},
                            "axis": {"orient": "left", "offset": -83, "values": [0,5,10,15,20,25,30,35,40,45,50,55,60,65,70,75,80,85,90,95,100], "labelExpr": "datum.value % 20 === 0 ? datum.label : ''", "labelPadding": 6, "labelOverlap": false, "labelFlush": false, "ticks": false, "tickSize": 0, "grid": true, "gridColor": {"condition": {"test": "datum.value % 20 === 0", "value": "#f08a8a"}, "value": "#cfcfe0"}, "gridDash": [1.5, 1.5], "title": "Percent", "titleX": -69.7, "titleY": 127, "titleAngle": -90, "titleAlign": "center", "titleBaseline": "middle", "zindex": 1}},
                          "y2": {"datum": 100}
                        }
                      },
                      {
                        "data": {"name": "cpu"},
                        "transform": [
                          {"fold": ["User","Nice","System","Wait","Idle"], "as": ["series","pct"]},
                          {"window": [{"op": "row_number", "as": "ord"}], "groupby": ["time"]}
                        ],
                        "mark": {"type": "area", "interpolate": "step-after"},
                        "encoding": {
                          "y": {"field": "pct", "type": "quantitative", "stack": "zero", "scale": {"domain": [0, 100], "range": [215.7, 40.7], "nice": false, "zero": false},
                            "axis": {"orient": "left", "offset": -83, "values": [0,5,10,15,20,25,30,35,40,45,50,55,60,65,70,75,80,85,90,95,100], "labelExpr": "datum.value % 20 === 0 ? datum.label : ''", "labelPadding": 6, "labelOverlap": false, "labelFlush": false, "ticks": false, "tickSize": 0, "grid": true, "gridColor": {"condition": {"test": "datum.value % 20 === 0", "value": "#f08a8a"}, "value": "#cfcfe0"}, "gridDash": [1.5, 1.5], "title": "Percent", "titleX": -69.7, "titleY": 127, "titleAngle": -90, "titleAlign": "center", "titleBaseline": "middle", "zindex": 1}},
                          "color": {"field": "series", "type": "nominal", "scale": {"domain": ["User","Nice","System","Wait","Idle"], "range": ["#3333bb","#ffea00","#dd0000","#ff8a60","#e2e2f2"]}, "legend": null},
                          "order": {"field": "ord", "type": "quantitative"}
                        }
                      }
                    ]
                  },
                  {
                    "data": {"name": "cpuStats"},
                    "encoding": {
                      "y": {"field": "series", "type": "nominal", "scale": {"type": "point", "domain": ["User","Nice","System","Wait","Idle"], "range": [246.7, 306.7], "padding": 0},
                        "axis": {"orient": "right", "offset": -11, "labels": false, "ticks": false, "domain": false, "grid": false, "title": "RRDTOOL / TOBI OETIKER", "titleAngle": 90, "titleX": 0, "titleY": 75, "titleAlign": "center", "titleBaseline": "middle", "titleFontSize": 10, "titleColor": "#bbbbbb"}}
                    },
                    "resolve": {"scale": {"x": "independent"}},
                    "layer": [
                      {
                        "encoding": {"x": {"datum": "sq", "type": "nominal", "scale": {"type": "point", "domain": ["sq", "name"], "range": [21.3, 32.3], "padding": 0}, "axis": null}},
                        "layer": [
                          {"mark": {"type": "square", "size": 86, "filled": true, "opacity": 1, "stroke": "#000000", "strokeWidth": 1},
                           "encoding": {"color": {"field": "series", "type": "nominal", "legend": null}}},
                          {"mark": {"type": "text", "align": "left", "baseline": "middle", "fontSize": 12.6, "color": "#222222"},
                           "encoding": {"x": {"datum": "name", "type": "nominal"}, "text": {"field": "series"}}}
                        ]
                      },
                      {
                        "transform": [{"fold": ["Now:","Min:","Avg:","Max:"], "as": ["stat","val"]}],
                        "encoding": {"x": {"field": "stat", "type": "nominal", "scale": {"type": "point", "domain": ["Now:","Min:","Avg:","Max:"], "range": [86, 380], "padding": 0},
                          "axis": {"orient": "top", "offset": 0, "labels": false, "ticks": false, "domain": false, "grid": false, "title": "cluster.lsd.di.uminho.pt CPU last hour", "titleX": 272.5, "titleY": 15, "titleAngle": 0, "titleAlign": "center", "titleBaseline": "middle", "titleFontSize": 16.6, "titleColor": "#222222"}}},
                        "layer": [
                          {"mark": {"type": "text", "align": "left", "baseline": "middle", "fontSize": 12.6, "color": "#222222", "clip": true}, "encoding": {"text": {"field": "stat"}}},
                          {"mark": {"type": "text", "align": "right", "baseline": "middle", "fontSize": 12.6, "color": "#222222", "dx": 75, "clip": true}, "encoding": {"text": {"field": "val"}}}
                        ]
                      }
                    ]
                  }
                ]
              }
            ]
          },
          {
            "spacing": 72,
            "resolve": {"scale": {"color": "independent"}},
            "vconcat": [
              {
                "width": 498, "height": 322,
                "view": {"fill": "#f2f2f2", "stroke": "#aaaaaa"},
                "resolve": {"scale": {"x": "independent", "y": "independent"}},
                "layer": [
                  {
                    "encoding": {
                      "x": {"field": "time", "type": "temporal",
                        "scale": {"domain": [{"year":2012,"month":10,"date":15,"hours":11,"minutes":23,"seconds":15},{"year":2012,"month":10,"date":15,"hours":12,"minutes":23,"seconds":15}], "range": [85, 465], "nice": false},
                        "axis": {"orient": "top", "offset": -202, "values": [{"year":2012,"month":10,"date":15,"hours":11,"minutes":25},{"year":2012,"month":10,"date":15,"hours":11,"minutes":30},{"year":2012,"month":10,"date":15,"hours":11,"minutes":35},{"year":2012,"month":10,"date":15,"hours":11,"minutes":40},{"year":2012,"month":10,"date":15,"hours":11,"minutes":45},{"year":2012,"month":10,"date":15,"hours":11,"minutes":50},{"year":2012,"month":10,"date":15,"hours":11,"minutes":55},{"year":2012,"month":10,"date":15,"hours":12,"minutes":0},{"year":2012,"month":10,"date":15,"hours":12,"minutes":5},{"year":2012,"month":10,"date":15,"hours":12,"minutes":10},{"year":2012,"month":10,"date":15,"hours":12,"minutes":15},{"year":2012,"month":10,"date":15,"hours":12,"minutes":20}], "format": "%H:%M", "labelExpr": "minutes(datum.value) % 20 === 0 ? datum.label : ''", "labelBaseline": "middle", "labelAlign": "center", "labelPadding": -12, "labelOverlap": false, "labelFlush": false, "ticks": false, "tickSize": 0, "title": null, "grid": true, "gridColor": {"condition": {"test": "minutes(datum.value) % 20 === 0", "value": "#f08a8a"}, "value": "#d0d0d8"}, "gridDash": [1.5, 1.5], "zindex": 1}
                      }
                    },
                    "layer": [
                      {
                        "data": {"values": [{}]},
                        "mark": {"type": "rect", "color": "#ffffff"},
                        "encoding": {
                          "x": {"datum": {"year":2012,"month":10,"date":15,"hours":11,"minutes":23,"seconds":15}, "type": "temporal",
                            "scale": {"domain": [{"year":2012,"month":10,"date":15,"hours":11,"minutes":23,"seconds":15},{"year":2012,"month":10,"date":15,"hours":12,"minutes":23,"seconds":15}], "range": [85, 465], "nice": false},
                            "axis": {"orient": "top", "offset": -202, "values": [{"year":2012,"month":10,"date":15,"hours":11,"minutes":25},{"year":2012,"month":10,"date":15,"hours":11,"minutes":30},{"year":2012,"month":10,"date":15,"hours":11,"minutes":35},{"year":2012,"month":10,"date":15,"hours":11,"minutes":40},{"year":2012,"month":10,"date":15,"hours":11,"minutes":45},{"year":2012,"month":10,"date":15,"hours":11,"minutes":50},{"year":2012,"month":10,"date":15,"hours":11,"minutes":55},{"year":2012,"month":10,"date":15,"hours":12,"minutes":0},{"year":2012,"month":10,"date":15,"hours":12,"minutes":5},{"year":2012,"month":10,"date":15,"hours":12,"minutes":10},{"year":2012,"month":10,"date":15,"hours":12,"minutes":15},{"year":2012,"month":10,"date":15,"hours":12,"minutes":20}], "format": "%H:%M", "labelExpr": "minutes(datum.value) % 20 === 0 ? datum.label : ''", "labelBaseline": "middle", "labelAlign": "center", "labelPadding": -12, "labelOverlap": false, "labelFlush": false, "ticks": false, "tickSize": 0, "title": null, "grid": true, "gridColor": {"condition": {"test": "minutes(datum.value) % 20 === 0", "value": "#f08a8a"}, "value": "#d0d0d8"}, "gridDash": [1.5, 1.5], "zindex": 1}},
                          "x2": {"datum": {"year":2012,"month":10,"date":15,"hours":12,"minutes":23,"seconds":15}},
                          "y": {"datum": 0, "type": "quantitative", "scale": {"domain": [0, 200], "range": [202, 42.3], "nice": false, "zero": false},
                            "axis": {"orient": "left", "offset": -85, "values": [0,10,20,30,40,50,60,70,80,90,100,110,120,130,140,150,160,170,180,190,200], "labelExpr": "datum.value === 0 ? '0\u00a0\u00a0' : (datum.value % 50 === 0 ? datum.value + ' G' : '')", "labelPadding": 8, "labelOverlap": false, "labelFlush": false, "ticks": false, "tickSize": 0, "grid": true, "gridColor": {"condition": {"test": "datum.value % 50 === 0", "value": "#f08a8a"}, "value": "#d0d0d8"}, "gridDash": [1.5, 1.5], "title": "Bytes", "titleX": -70, "titleY": 121, "titleAngle": -90, "titleAlign": "center", "titleBaseline": "middle", "zindex": 1}},
                          "y2": {"datum": 200}
                        }
                      },
                      {
                        "data": {"name": "mem"},
                        "transform": [
                          {"fold": ["Use","Share","Cache","Buffer","Swap"], "as": ["series","gb"]},
                          {"window": [{"op": "row_number", "as": "ord"}], "groupby": ["time"]}
                        ],
                        "mark": {"type": "area"},
                        "encoding": {
                          "y": {"field": "gb", "type": "quantitative", "stack": "zero", "scale": {"domain": [0, 200], "range": [202, 42.3], "nice": false, "zero": false},
                            "axis": {"orient": "left", "offset": -85, "values": [0,10,20,30,40,50,60,70,80,90,100,110,120,130,140,150,160,170,180,190,200], "labelExpr": "datum.value === 0 ? '0\u00a0\u00a0' : (datum.value % 50 === 0 ? datum.value + ' G' : '')", "labelPadding": 8, "labelOverlap": false, "labelFlush": false, "ticks": false, "tickSize": 0, "grid": true, "gridColor": {"condition": {"test": "datum.value % 50 === 0", "value": "#f08a8a"}, "value": "#d0d0d8"}, "gridDash": [1.5, 1.5], "title": "Bytes", "titleX": -70, "titleY": 121, "titleAngle": -90, "titleAlign": "center", "titleBaseline": "middle", "zindex": 1}},
                          "color": {"field": "series", "type": "nominal", "scale": {"domain": ["Use","Share","Cache","Buffer","Swap","Total"], "range": ["#5555cc","#0000aa","#33cc33","#99ff33","#9900cc","#ff0000"]}, "legend": null},
                          "order": {"field": "ord", "type": "quantitative"}
                        }
                      },
                      {
                        "data": {"name": "mem"},
                        "mark": {"type": "line", "strokeWidth": 2.2},
                        "encoding": {
                          "y": {"field": "Total", "type": "quantitative", "scale": {"domain": [0, 200], "range": [202, 42.3], "nice": false, "zero": false},
                            "axis": {"orient": "left", "offset": -85, "values": [0,10,20,30,40,50,60,70,80,90,100,110,120,130,140,150,160,170,180,190,200], "labelExpr": "datum.value === 0 ? '0\u00a0\u00a0' : (datum.value % 50 === 0 ? datum.value + ' G' : '')", "labelPadding": 8, "labelOverlap": false, "labelFlush": false, "ticks": false, "tickSize": 0, "grid": true, "gridColor": {"condition": {"test": "datum.value % 50 === 0", "value": "#f08a8a"}, "value": "#d0d0d8"}, "gridDash": [1.5, 1.5], "title": "Bytes", "titleX": -70, "titleY": 121, "titleAngle": -90, "titleAlign": "center", "titleBaseline": "middle", "zindex": 1}},
                          "color": {"datum": "Total", "type": "nominal"}
                        }
                      }
                    ]
                  },
                  {
                    "data": {"name": "memStats"},
                    "encoding": {
                      "y": {"field": "series", "type": "nominal", "scale": {"type": "point", "domain": ["Use","Share","Cache","Buffer","Swap","Total"], "range": [232.7, 307.7], "padding": 0},
                        "axis": {"orient": "right", "offset": -9, "labels": false, "ticks": false, "domain": false, "grid": false, "title": "RRDTOOL / TOBI OETIKER", "titleAngle": 90, "titleX": 0, "titleY": 77, "titleAlign": "center", "titleBaseline": "middle", "titleFontSize": 10, "titleColor": "#bbbbbb"}}
                    },
                    "resolve": {"scale": {"x": "independent"}},
                    "layer": [
                      {
                        "encoding": {"x": {"datum": "sq", "type": "nominal", "scale": {"type": "point", "domain": ["sq", "name"], "range": [21.5, 35], "padding": 0}, "axis": null}},
                        "layer": [
                          {"mark": {"type": "square", "size": 81, "filled": true, "opacity": 1, "stroke": "#000000", "strokeWidth": 1},
                           "encoding": {"color": {"field": "series", "type": "nominal", "legend": null}}},
                          {"mark": {"type": "text", "align": "left", "baseline": "middle", "fontSize": 12.6, "color": "#222222"},
                           "encoding": {"x": {"datum": "name", "type": "nominal"}, "text": {"field": "series"}}}
                        ]
                      },
                      {
                        "transform": [{"fold": ["Now:","Min:","Avg:","Max:"], "as": ["stat","val"]}],
                        "encoding": {"x": {"field": "stat", "type": "nominal", "scale": {"type": "point", "domain": ["Now:","Min:","Avg:","Max:"], "range": [87.3, 405], "padding": 0},
                          "axis": {"orient": "top", "offset": 0, "labels": false, "ticks": false, "domain": false, "grid": false, "title": "cluster.lsd.di.uminho.pt Memory last hour", "titleX": 274.5, "titleY": 17.3, "titleAngle": 0, "titleAlign": "center", "titleBaseline": "middle", "titleFontSize": 16.6, "titleColor": "#222222"}}},
                        "layer": [
                          {"mark": {"type": "text", "align": "left", "baseline": "middle", "fontSize": 12.6, "color": "#222222", "clip": true}, "encoding": {"text": {"field": "stat"}}},
                          {"mark": {"type": "text", "align": "right", "baseline": "middle", "fontSize": 12.6, "color": "#222222", "dx": 82, "clip": true}, "encoding": {"text": {"field": "val"}}}
                        ]
                      }
                    ]
                  }
                ]
              },
              {
                "width": 498, "height": 255,
                "view": {"fill": "#f2f2f2", "stroke": "#aaaaaa"},
                "resolve": {"scale": {"x": "independent", "y": "independent"}},
                "layer": [
                  {
                    "encoding": {
                      "x": {"field": "time", "type": "temporal",
                        "scale": {"domain": [{"year":2012,"month":10,"date":15,"hours":11,"minutes":23,"seconds":15},{"year":2012,"month":10,"date":15,"hours":12,"minutes":23,"seconds":15}], "range": [81, 457.5], "nice": false},
                        "axis": {"orient": "top", "offset": -195.3, "values": [{"year":2012,"month":10,"date":15,"hours":11,"minutes":25},{"year":2012,"month":10,"date":15,"hours":11,"minutes":30},{"year":2012,"month":10,"date":15,"hours":11,"minutes":35},{"year":2012,"month":10,"date":15,"hours":11,"minutes":40},{"year":2012,"month":10,"date":15,"hours":11,"minutes":45},{"year":2012,"month":10,"date":15,"hours":11,"minutes":50},{"year":2012,"month":10,"date":15,"hours":11,"minutes":55},{"year":2012,"month":10,"date":15,"hours":12,"minutes":0},{"year":2012,"month":10,"date":15,"hours":12,"minutes":5},{"year":2012,"month":10,"date":15,"hours":12,"minutes":10},{"year":2012,"month":10,"date":15,"hours":12,"minutes":15},{"year":2012,"month":10,"date":15,"hours":12,"minutes":20}], "format": "%H:%M", "labelExpr": "minutes(datum.value) % 20 === 0 ? datum.label : ''", "labelBaseline": "middle", "labelAlign": "center", "labelPadding": -12, "labelOverlap": false, "labelFlush": false, "ticks": false, "tickSize": 0, "title": null, "grid": true, "gridColor": {"condition": {"test": "minutes(datum.value) % 20 === 0", "value": "#f08a8a"}, "value": "#d9d2d2"}, "gridDash": [1.5, 1.5], "zindex": 1}
                      }
                    },
                    "layer": [
                      {
                        "data": {"values": [{}]},
                        "mark": {"type": "rect", "color": "#ffffff"},
                        "encoding": {
                          "x": {"datum": {"year":2012,"month":10,"date":15,"hours":11,"minutes":23,"seconds":15}, "type": "temporal",
                            "scale": {"domain": [{"year":2012,"month":10,"date":15,"hours":11,"minutes":23,"seconds":15},{"year":2012,"month":10,"date":15,"hours":12,"minutes":23,"seconds":15}], "range": [81, 457.5], "nice": false},
                            "axis": {"orient": "top", "offset": -195.3, "values": [{"year":2012,"month":10,"date":15,"hours":11,"minutes":25},{"year":2012,"month":10,"date":15,"hours":11,"minutes":30},{"year":2012,"month":10,"date":15,"hours":11,"minutes":35},{"year":2012,"month":10,"date":15,"hours":11,"minutes":40},{"year":2012,"month":10,"date":15,"hours":11,"minutes":45},{"year":2012,"month":10,"date":15,"hours":11,"minutes":50},{"year":2012,"month":10,"date":15,"hours":11,"minutes":55},{"year":2012,"month":10,"date":15,"hours":12,"minutes":0},{"year":2012,"month":10,"date":15,"hours":12,"minutes":5},{"year":2012,"month":10,"date":15,"hours":12,"minutes":10},{"year":2012,"month":10,"date":15,"hours":12,"minutes":15},{"year":2012,"month":10,"date":15,"hours":12,"minutes":20}], "format": "%H:%M", "labelExpr": "minutes(datum.value) % 20 === 0 ? datum.label : ''", "labelBaseline": "middle", "labelAlign": "center", "labelPadding": -12, "labelOverlap": false, "labelFlush": false, "ticks": false, "tickSize": 0, "title": null, "grid": true, "gridColor": {"condition": {"test": "minutes(datum.value) % 20 === 0", "value": "#f08a8a"}, "value": "#d9d2d2"}, "gridDash": [1.5, 1.5], "zindex": 1}},
                          "x2": {"datum": {"year":2012,"month":10,"date":15,"hours":12,"minutes":23,"seconds":15}},
                          "y": {"datum": 0, "type": "quantitative", "scale": {"domain": [0, 76], "range": [195.3, 39], "nice": false, "zero": false},
                            "axis": {"orient": "left", "offset": -81, "values": [0,5,10,15,20,25,30,35,40,45,50,55,60,65,70,75], "labelExpr": "datum.value === 0 ? '0\u00a0\u00a0' : (datum.value % 10 === 0 ? datum.value + ' k' : '')", "labelPadding": 9, "labelOverlap": false, "labelFlush": false, "ticks": false, "tickSize": 0, "grid": true, "gridColor": {"condition": {"test": "datum.value % 10 === 0", "value": "#f08a8a"}, "value": "#d9d2d2"}, "gridDash": [1.5, 1.5], "title": "Bytes/sec", "titleX": -70, "titleY": 115.7, "titleAngle": -90, "titleAlign": "center", "titleBaseline": "middle", "zindex": 1}},
                          "y2": {"datum": 76}
                        }
                      },
                      {
                        "data": {"name": "net"},
                        "mark": {"type": "line", "strokeWidth": 2, "interpolate": "step-after"},
                        "encoding": {
                          "y": {"field": "k", "type": "quantitative", "scale": {"domain": [0, 76], "range": [195.3, 39], "nice": false, "zero": false},
                            "axis": {"orient": "left", "offset": -81, "values": [0,5,10,15,20,25,30,35,40,45,50,55,60,65,70,75], "labelExpr": "datum.value === 0 ? '0\u00a0\u00a0' : (datum.value % 10 === 0 ? datum.value + ' k' : '')", "labelPadding": 9, "labelOverlap": false, "labelFlush": false, "ticks": false, "tickSize": 0, "grid": true, "gridColor": {"condition": {"test": "datum.value % 10 === 0", "value": "#f08a8a"}, "value": "#d9d2d2"}, "gridDash": [1.5, 1.5], "title": "Bytes/sec", "titleX": -70, "titleY": 115.7, "titleAngle": -90, "titleAlign": "center", "titleBaseline": "middle", "zindex": 1}},
                          "color": {"field": "dir", "type": "nominal", "scale": {"domain": ["In","Out"], "range": ["#33cc33","#5555cc"]}, "legend": null}
                        }
                      }
                    ]
                  },
                  {
                    "data": {"name": "netStats"},
                    "encoding": {
                      "y": {"field": "series", "type": "nominal", "scale": {"type": "point", "domain": ["In","Out"], "range": [227.3, 244], "padding": 0},
                        "axis": {"orient": "right", "offset": -5, "labels": false, "ticks": false, "domain": false, "grid": false, "title": "RRDTOOL / TOBI OETIKER", "titleAngle": 90, "titleX": 0, "titleY": 75, "titleAlign": "center", "titleBaseline": "middle", "titleFontSize": 10, "titleColor": "#bbbbbb"}}
                    },
                    "resolve": {"scale": {"x": "independent"}},
                    "layer": [
                      {
                        "encoding": {"x": {"datum": "sq", "type": "nominal", "scale": {"type": "point", "domain": ["sq", "name"], "range": [21, 36], "padding": 0}, "axis": null}},
                        "layer": [
                          {"mark": {"type": "square", "size": 100, "filled": true, "opacity": 1, "stroke": "#000000", "strokeWidth": 1},
                           "encoding": {"color": {"field": "series", "type": "nominal", "legend": null}}},
                          {"mark": {"type": "text", "align": "left", "baseline": "middle", "fontSize": 14.2, "color": "#222222"},
                           "encoding": {"x": {"datum": "name", "type": "nominal"}, "text": {"field": "series"}}}
                        ]
                      },
                      {
                        "transform": [{"fold": ["Now:","Min:","Avg:","Max:"], "as": ["stat","val"]}],
                        "encoding": {"x": {"field": "stat", "type": "nominal", "scale": {"type": "point", "domain": ["Now:","Min:","Avg:","Max:"], "range": [82, 406.7], "padding": 0},
                          "axis": {"orient": "top", "offset": 0, "labels": false, "ticks": false, "domain": false, "grid": false, "title": "cluster.lsd.di.uminho.pt Network last hour", "titleX": 269.3, "titleY": 15.7, "titleAngle": 0, "titleAlign": "center", "titleBaseline": "middle", "titleFontSize": 16.6, "titleColor": "#222222"}}},
                        "layer": [
                          {"mark": {"type": "text", "align": "left", "baseline": "middle", "fontSize": 14.2, "color": "#222222", "clip": true}, "encoding": {"text": {"field": "stat"}}},
                          {"mark": {"type": "text", "align": "right", "baseline": "middle", "fontSize": 14.2, "color": "#222222", "dx": 86, "clip": true}, "encoding": {"text": {"field": "val"}}}
                        ]
                      }
                    ]
                  }
                ]
              }
            ]
          }
        ]
      }
    ]
  }
]
}
